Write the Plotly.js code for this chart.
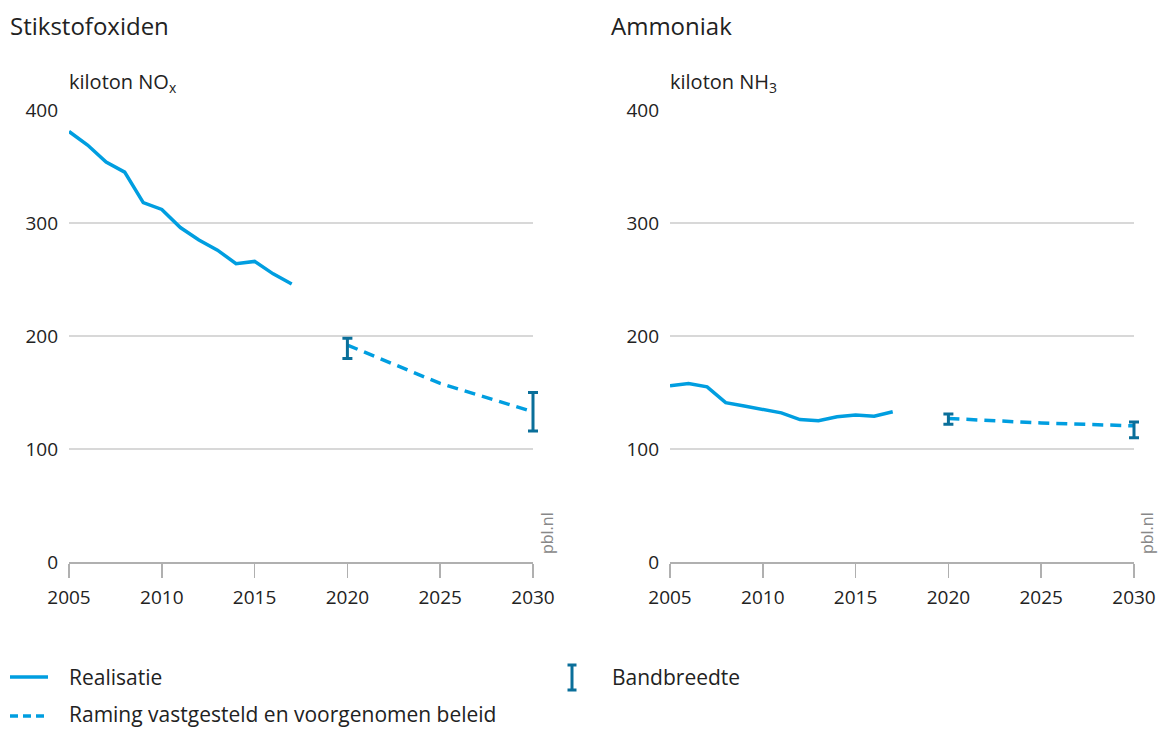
<!DOCTYPE html>
<html><head><meta charset="utf-8">
<script src="https://cdn.plot.ly/plotly-3.0.1.min.js"></script>
<style>body{margin:0;background:#fff}#c{width:1158px;height:729px}</style>
</head><body><div id="c"></div>
<script>
const yearsReal = [2005,2006,2007,2008,2009,2010,2011,2012,2013,2014,2015,2016,2017];
const noxReal = [381,369,354,345,318,312,296,285,276,264,266,255,246];
const nh3Real = [156,158,155,141,138,135,132,126,125,128.5,130,129,133];
const yearsProj = [2020,2025,2030];
const noxProj = [192,158,133];
const nh3Proj = [127,123,120.5];
const bandYears = [2020,2030];
const noxBandHigh = [198,150];
const noxBandLow = [180,116];
const nh3BandHigh = [131,124];
const nh3BandLow = [122,110];
const xTicks = [2005,2010,2015,2020,2025,2030];
const yTicks = [0,100,200,300,400];

const W=1158,H=729;
const light='#009ee0', dark='#0a6f9a';
const font="Open Sans, Noto Sans, sans-serif";
function px(x){return x/W;} function py(y){return 1-y/H;}

function band(years, proj, hi, lo){
  const mid = years.map(y=>proj[yearsProj.indexOf(y)]);
  return {mid, plus: hi.map((v,i)=>v-mid[i]), minus: lo.map((v,i)=>mid[i]-v)};
}
const nb=band(bandYears,noxProj,noxBandHigh,noxBandLow);
const hb=band(bandYears,nh3Proj,nh3BandHigh,nh3BandLow);

const traces=[
 {x:yearsReal,y:noxReal,xaxis:'x',yaxis:'y',mode:'lines',line:{color:light,width:3.5},hoverinfo:'skip'},
 {x:yearsProj,y:noxProj,xaxis:'x',yaxis:'y',mode:'lines',line:{color:light,width:3.5,dash:'11px,7px'},hoverinfo:'skip'},
 {x:bandYears,y:nb.mid,xaxis:'x3',yaxis:'y3',mode:'markers',marker:{size:1,opacity:0},
  error_y:{type:'data',symmetric:false,array:nb.plus,arrayminus:nb.minus,color:dark,thickness:3,width:5}},
 {x:yearsReal,y:nh3Real,xaxis:'x2',yaxis:'y2',mode:'lines',line:{color:light,width:3.5},hoverinfo:'skip'},
 {x:yearsProj,y:nh3Proj,xaxis:'x2',yaxis:'y2',mode:'lines',line:{color:light,width:3.5,dash:'11px,7px'},hoverinfo:'skip'},
 {x:bandYears,y:hb.mid,xaxis:'x4',yaxis:'y4',mode:'markers',marker:{size:1,opacity:0},
  error_y:{type:'data',symmetric:false,array:hb.plus,arrayminus:hb.minus,color:dark,thickness:3,width:5}}
];

const xax=(dom)=>({domain:dom,range:[2005,2030],tickvals:xTicks,ticktext:xTicks.map(String),showgrid:false,zeroline:false,
  showline:true,linecolor:'#b0b0b0',linewidth:1.5,ticks:'outside',ticklen:14,tickwidth:1.5,tickcolor:'#b0b0b0',
  ticklabelstandoff:4,tickfont:{family:font,size:19,color:'#222'},fixedrange:true});
const yax=(anchor)=>({domain:[py(562),py(110)],range:[0,400],tickvals:yTicks,showgrid:true,gridcolor:'#d8d8d8',gridwidth:1.2,
  zeroline:false,showline:false,ticks:'',ticklabelstandoff:10,tickfont:{family:font,size:19,color:'#222'},anchor:anchor,fixedrange:true});
// invisible companion axes (wider, same scale) so the 2030 error bars are not clipped
const ext=12, yrsPerPx=25/464;
const hidX=(l,r,anchor)=>({domain:[px(l-ext),px(r+ext)],range:[2005-ext*yrsPerPx,2030+ext*yrsPerPx],visible:false,showgrid:false,zeroline:false,anchor:anchor,fixedrange:true});
const hidY=(anchor)=>({domain:[py(562),py(110)],range:[0,400],visible:false,showgrid:false,zeroline:false,anchor:anchor,fixedrange:true});

const ann=[
 {text:'Stikstofoxiden',x:px(8),y:py(25),xanchor:'left',yanchor:'middle',font:{size:24,color:'#222'}},
 {text:'Ammoniak',x:px(609),y:py(25),xanchor:'left',yanchor:'middle',font:{size:24,color:'#222'}},
 {text:'kiloton NO<sub>x</sub>',x:px(67),y:py(82),xanchor:'left',yanchor:'middle',font:{size:20,color:'#222'}},
 {text:'kiloton NH<sub>3</sub>',x:px(668),y:py(82),xanchor:'left',yanchor:'middle',font:{size:20,color:'#222'}},
 {text:'pbl.nl',x:px(547),y:py(556),xanchor:'center',yanchor:'bottom',textangle:-90,font:{size:16,color:'#888'}},
 {text:'pbl.nl',x:px(1147),y:py(556),xanchor:'center',yanchor:'bottom',textangle:-90,font:{size:16,color:'#888'}},
 {text:'Realisatie',x:px(67),y:py(677),xanchor:'left',yanchor:'middle',font:{size:21,color:'#222'}},
 {text:'Raming vastgesteld en voorgenomen beleid',x:px(67),y:py(714),xanchor:'left',yanchor:'middle',font:{size:21,color:'#222'}},
 {text:'Bandbreedte',x:px(610),y:py(677),xanchor:'left',yanchor:'middle',font:{size:21,color:'#222'}}
].map(a=>Object.assign({xref:'paper',yref:'paper',showarrow:false},a,{font:Object.assign({family:font},a.font)}));

const shapes=[
 {type:'line',xref:'paper',yref:'paper',x0:px(10),x1:px(48),y0:py(677),y1:py(677),line:{color:light,width:3.5}},
 {type:'line',xref:'paper',yref:'paper',x0:px(10),x1:px(48),y0:py(716),y1:py(716),line:{color:light,width:3.5,dash:'8px,5px'}},
 {type:'line',xref:'paper',yref:'paper',x0:px(572),x1:px(572),y0:py(664),y1:py(691),line:{color:dark,width:3}},
 {type:'line',xref:'paper',yref:'paper',x0:px(567.5),x1:px(576.5),y0:py(665),y1:py(665),line:{color:dark,width:3}},
 {type:'line',xref:'paper',yref:'paper',x0:px(567.5),x1:px(576.5),y0:py(690),y1:py(690),line:{color:dark,width:3}}
];

const layout={width:W,height:H,margin:{l:0,r:0,t:0,b:0},showlegend:false,paper_bgcolor:'#fff',plot_bgcolor:'rgba(0,0,0,0)',
 xaxis:Object.assign(xax([px(69),px(533)]),{anchor:'y'}),yaxis:yax('x'),
 xaxis2:Object.assign(xax([px(670),px(1134)]),{anchor:'y2'}),yaxis2:yax('x2'),
 xaxis3:hidX(69,533,'y3'),yaxis3:hidY('x3'),
 xaxis4:hidX(670,1134,'y4'),yaxis4:hidY('x4'),
 annotations:ann,shapes:shapes,font:{family:font}};
Plotly.newPlot('c',traces,layout,{displayModeBar:false,staticPlot:true});
</script></body></html>
